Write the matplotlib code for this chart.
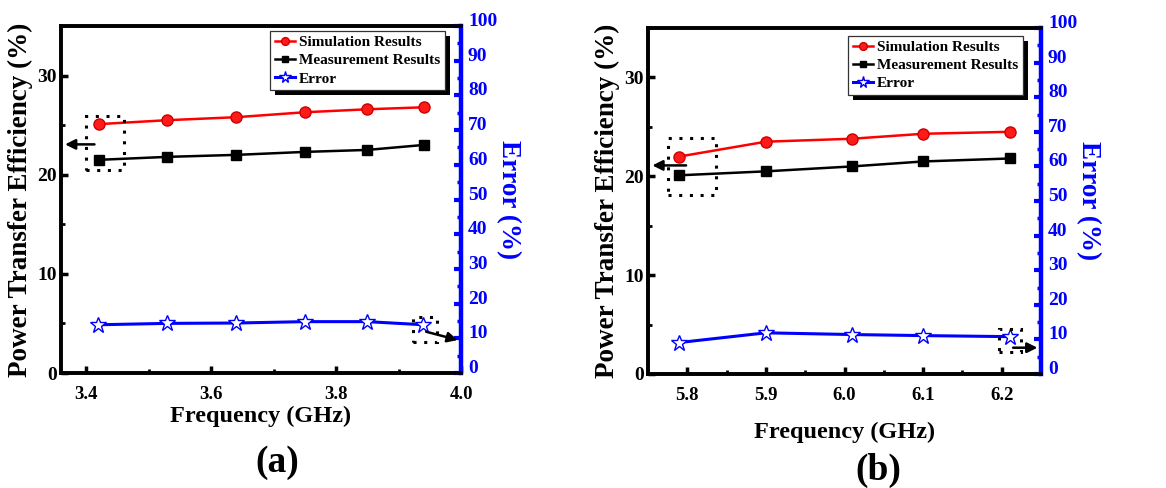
import matplotlib
matplotlib.use("Agg")
import matplotlib.pyplot as plt
from matplotlib.patches import Rectangle
from matplotlib.ticker import MultipleLocator

# ---------------- data ----------------
freq_a = [3.42, 3.53, 3.64, 3.75, 3.85, 3.94]
sim_a = [25.1, 25.5, 25.8, 26.3, 26.6, 26.8]
meas_a = [21.5, 21.8, 22.0, 22.3, 22.5, 23.0]
err_a = [13.9, 14.3, 14.4, 14.8, 14.8, 13.9]

freq_b = [5.79, 5.90, 6.01, 6.10, 6.21]
sim_b = [22.0, 23.5, 23.8, 24.3, 24.5]
meas_b = [20.1, 20.5, 21.0, 21.5, 21.8]
err_b = [9.1, 11.9, 11.4, 11.1, 10.8]

xticks_a = [3.4, 3.6, 3.8, 4.0]
xticks_b = [5.8, 5.9, 6.0, 6.1, 6.2]

# annotation boxes: (x0, x1, y0, y1) ; arrows: (x_from, y_from, x_to, y_to)
box_pte_a = (3.40, 3.46, 20.5, 25.9)
arrow_pte_a = (3.418, 23.06, 3.362, 23.06)
box_err_a = (3.923, 3.961, 8.9, 16.1)
arrow_err_a = (3.94, 12.1, 3.999, 9.3)

box_pte_b = (5.776, 5.837, 18.1, 23.9)
arrow_pte_b = (5.802, 21.1, 5.752, 21.1)
box_err_b = (6.196, 6.225, 6.4, 13.0)
arrow_err_b = (6.211, 7.6, 6.249, 7.6)

plt.rcParams['font.family'] = ['Liberation Serif', 'DejaVu Serif']
plt.rcParams['font.weight'] = 'bold'

W, H = 1166, 488
fig = plt.figure(figsize=(W / 100, H / 100), dpi=100)
legends = []


def make_panel(rect, freq, sim, meas, err, xlim, xticks, xminor, box_p, arr_p,
               box_e, arr_e, leg_anchor, label, label_pos, xlabelpad):
    l, t, r, b = rect
    ax = fig.add_axes([l / W, 1 - b / H, (r - l) / W, (b - t) / H])
    ax2 = ax.twinx()
    ax.set_xlim(*xlim)
    ax.set_ylim(0, 35)
    ax2.set_ylim(0, 100)

    ls, = ax.plot(freq, sim, '-o', color='red', lw=1.8, ms=8,
                  markerfacecolor='#ff1a1a', markeredgecolor='#cc0000',
                  label='Simulation Results', zorder=4)
    lm, = ax.plot(freq, meas, '-s', color='black', lw=1.8, ms=7,
                  label='Measurement Results', zorder=4)
    le, = ax2.plot(freq, err, '-*', color='#0000ff', lw=2.2, ms=12,
                   markerfacecolor='white', markeredgecolor='#0000ff',
                   markeredgewidth=1.0, label='Error', zorder=4)

    ax.set_xticks(xticks)
    ax.xaxis.set_minor_locator(MultipleLocator(xminor))
    ax.set_yticks([0, 10, 20, 30])
    ax.yaxis.set_minor_locator(MultipleLocator(5))
    ax2.set_yticks(range(0, 101, 10))
    ax2.yaxis.set_minor_locator(MultipleLocator(5))

    for a in (ax, ax2):
        for s in a.spines.values():
            s.set_linewidth(2.6)
            s.set_color('black')
    ax2.spines['right'].set_color('#0000ff')
    ax2.spines['right'].set_linewidth(3.2)

    ax.tick_params(axis='x', which='major', direction='in', length=5,
                   width=2.5, labelsize=13.5, pad=9.5)
    ax.tick_params(axis='y', which='major', direction='in', length=5,
                   width=2.5, labelsize=14, pad=3)
    ax.tick_params(axis='both', which='minor', direction='in', length=3,
                   width=2.0)
    ax.tick_params(axis='y', which='both', right=False)
    ax.tick_params(axis='x', which='both', top=False)
    ax2.tick_params(axis='y', which='major', direction='in', length=5,
                    width=3, colors='#0000ff', labelsize=14, pad=5)
    ax2.tick_params(axis='y', which='minor', direction='in', length=3,
                    width=2.5, colors='#0000ff')
    for lab in ax.get_xticklabels() + ax.get_yticklabels():
        lab.set_fontweight('bold')
    for lab in ax2.get_yticklabels():
        lab.set_fontweight('bold')
        lab.set_verticalalignment('baseline')

    ax.set_xlabel('Frequency (GHz)', fontsize=17.5, fontweight='bold',
                  labelpad=xlabelpad)
    ax.set_ylabel('Power Transfer Efficiency (%)', fontsize=19.5,
                  fontweight='bold', labelpad=3)
    ax2.set_ylabel('Error (%)', fontsize=19.5, fontweight='bold',
                   color='#0000ff', rotation=270, labelpad=17)

    # dotted boxes and arrows
    x0, x1, y0, y1 = box_p
    ax.add_patch(Rectangle((x0, y0), x1 - x0, y1 - y0, fill=False,
                           ls=(0, (1, 2.5)), lw=2.2, ec='black', zorder=5))
    ax.annotate('', xy=(arr_p[2], arr_p[3]), xytext=(arr_p[0], arr_p[1]),
                arrowprops=dict(arrowstyle='-|>', color='black', lw=1.8,
                                mutation_scale=15), zorder=6)
    x0, x1, y0, y1 = box_e
    ax2.add_patch(Rectangle((x0, y0), x1 - x0, y1 - y0, fill=False,
                            ls=(0, (1, 2.5)), lw=2.2, ec='black', zorder=5))
    ax2.annotate('', xy=(arr_e[2], arr_e[3]), xytext=(arr_e[0], arr_e[1]),
                 arrowprops=dict(arrowstyle='-|>', color='black', lw=1.8,
                                 mutation_scale=15), zorder=6)

    leg = ax2.legend(handles=[ls, lm, le], loc='upper right',
                     bbox_to_anchor=leg_anchor, borderaxespad=0,
                     fancybox=False, framealpha=1, edgecolor='#333333',
                     handlelength=1.3, handletextpad=0.3, borderpad=0.3,
                     labelspacing=0.3, markerscale=0.7,
                     prop={'weight': 'bold', 'size': 11})
    leg.get_frame().set_linewidth(0.9)
    leg.set_zorder(10)
    legends.append((ax2, leg))

    fig.text(label_pos[0] / W, 1 - label_pos[1] / H, label, fontsize=27,
             fontweight='bold', ha='center', va='center')
    return ax, ax2


make_panel((61, 26, 461, 373), freq_a, sim_a, meas_a, err_a, (3.36, 4.0),
           xticks_a, 0.1, box_pte_a, arrow_pte_a, box_err_a, arrow_err_a,
           (0.96, 0.986), '(a)', (277, 463), 2)
make_panel((648, 28, 1041, 374), freq_b, sim_b, meas_b, err_b, (5.75, 6.25),
           xticks_b, 0.05, box_pte_b, arrow_pte_b, box_err_b, arrow_err_b,
           (0.954, 0.978), '(b)', (878, 470), 13)

# solid black drop shadow behind each legend
fig.canvas.draw()
for ax2, leg in legends:
    bb = leg.get_window_extent()
    inv = ax2.transAxes.inverted()
    (x0, y0) = inv.transform((bb.x0 + 5, bb.y0 - 5))
    (x1, y1) = inv.transform((bb.x1 + 5, bb.y1 - 5))
    ax2.add_patch(Rectangle((x0, y0), x1 - x0, y1 - y0, transform=ax2.transAxes,
                            fc='black', ec='none', zorder=9.5, clip_on=False))

fig.savefig('out.png', dpi=100)
